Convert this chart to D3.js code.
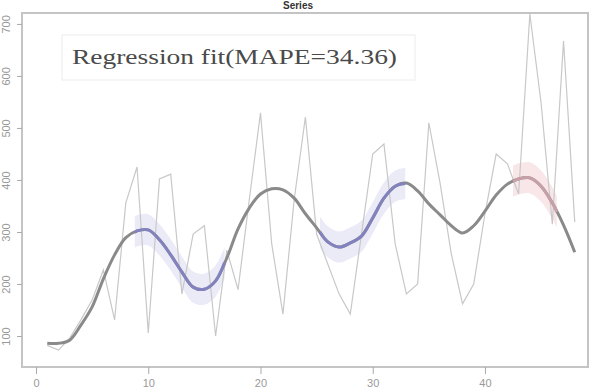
<!DOCTYPE html>
<html><head><meta charset="utf-8">
<script src="https://cdn.jsdelivr.net/npm/d3@7"></script>
<style>body{margin:0;background:#fff}svg{display:block}</style>
</head><body>
<svg id="c" width="598" height="392"></svg>
<script>
const titleText = "Series";
const legendText = "Regression fit(MAPE=34.36)";
const xTicks = [0, 10, 20, 30, 40];
const yTicks = [100, 200, 300, 400, 500, 600, 700];
const time = d3.range(1, 49);
const observed = [82,73,96,131,169,227,131,356,425,106,402,411,181,296,312,100,265,189,362,529,277,142,362,521,296,238,181,142,296,450,469,277,181,200,510,394,258,162,200,335,450,431,373,719,548,315,667,319];
const fitted = [86,86,92,121,156,210,256,289,302,304,285,256,223,194,190,206,250,306,346,373,383,381,365,335,308,281,271,279,292,327,365,388,394,379,354,333,312,298,312,340,371,392,402,404,388,356,313,261];
const blueRanges = [[8.8, 16.8], [25.3, 32.9]];
const redRanges = [[42.5, 46.4]];
const bandHalf = 30;

const svg = d3.select("#c");
const L = 22, R = 588, T = 13, B = 367;
const x = d3.scaleLinear().domain([-1.25, 49.18]).range([L, R]);
const y = d3.scaleLinear().domain([40.4, 721]).range([B, T]);

svg.append("text").attr("x", 298).attr("y", 9).attr("text-anchor", "middle")
  .attr("font-family", "Liberation Sans, Arial").attr("font-weight", "bold")
  .attr("font-size", 10).attr("fill", "#333").text(titleText);

const fitPts = time.map((t, i) => ({t, v: fitted[i]}));
const interp = t => {
  const i = Math.min(Math.max(Math.floor(t) - 1, 0), fitted.length - 2);
  const f = t - (i + 1);
  return fitted[i] + (fitted[i + 1] - fitted[i]) * f;
};
function segment(r) {
  const pts = [{t: r[0], v: interp(r[0])}];
  fitPts.forEach(p => { if (p.t > r[0] && p.t < r[1]) pts.push(p); });
  pts.push({t: r[1], v: interp(r[1])});
  return pts;
}
const area = d3.area().curve(d3.curveCatmullRom)
  .x(d => x(d.t)).y0(d => y(d.v - bandHalf)).y1(d => y(d.v + bandHalf));
const line = d3.line().curve(d3.curveCatmullRom).x(d => x(d.t)).y(d => y(d.v));
const rawLine = d3.line().x(d => x(d.t)).y(d => y(d.v));

blueRanges.forEach(r => svg.append("path").attr("d", area(segment(r))).attr("fill", "#ebebf8"));
redRanges.forEach(r => svg.append("path").attr("d", area(segment(r))).attr("fill", "#f8e6e9"));

svg.append("path").attr("d", rawLine(time.map((t, i) => ({t, v: observed[i]}))))
  .attr("fill", "none").attr("stroke", "#c8c8c8").attr("stroke-width", 1.2);

svg.append("path").attr("d", line(fitPts)).attr("fill", "none")
  .attr("stroke", "#8a8a8a").attr("stroke-width", 3);
blueRanges.forEach(r => svg.append("path").attr("d", line(segment(r))).attr("fill", "none")
  .attr("stroke", "#8282bf").attr("stroke-width", 3));
redRanges.forEach(r => svg.append("path").attr("d", line(segment(r))).attr("fill", "none")
  .attr("stroke", "#c9a0a8").attr("stroke-width", 3));

svg.append("rect").attr("x", L).attr("y", T).attr("width", R - L).attr("height", B - T)
  .attr("fill", "none").attr("stroke", "#c4c4c4").attr("stroke-width", 2);

const xa = svg.append("g").attr("transform", `translate(0,${B})`)
  .call(d3.axisBottom(x).tickValues(xTicks).tickSize(7).tickPadding(5).tickFormat(d3.format("d")));
xa.select(".domain").remove();
xa.selectAll("line").attr("stroke", "#aaa");
xa.selectAll("text").attr("font-family", "Liberation Sans, Arial").attr("font-size", 11).attr("fill", "#999");

const ya = svg.append("g").attr("transform", `translate(${L},0)`)
  .call(d3.axisLeft(y).tickValues(yTicks).tickSize(5).tickFormat(d3.format("d")));
ya.select(".domain").remove();
ya.selectAll("line").attr("stroke", "#aaa");
ya.selectAll("text").attr("font-family", "Liberation Sans, Arial").attr("font-size", 11).attr("fill", "#999")
  .attr("text-anchor", "middle").attr("x", 0).attr("dy", 0)
  .attr("transform", function () { return "translate(-12,0) rotate(-90)"; });

svg.append("rect").attr("x", 62).attr("y", 35).attr("width", 353).attr("height", 45)
  .attr("fill", "#fff").attr("fill-opacity", 0.6).attr("stroke", "#ececec").attr("stroke-width", 1);
svg.append("text").attr("x", 72).attr("y", 64).attr("font-family", "Liberation Serif, Times New Roman")
  .attr("font-size", 22).attr("fill", "#4a4a4a").attr("textLength", 325).attr("lengthAdjust", "spacingAndGlyphs")
  .text(legendText);
</script>
</body></html>
